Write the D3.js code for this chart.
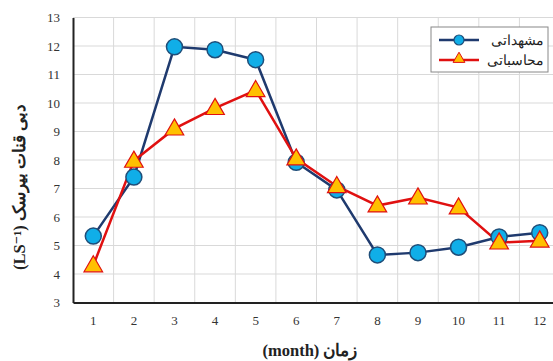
<!DOCTYPE html>
<html>
<head>
<meta charset="utf-8">
<script src="https://cdn.jsdelivr.net/npm/d3@7"></script>
<style>
  html, body { margin: 0; padding: 0; background: #fff; }
  svg { display: block; }
  text { font-family: "Liberation Serif", "DejaVu Serif", serif; }
</style>
</head>
<body>
<svg id="chart" width="553" height="361"></svg>
<script>
// Monthly discharge of the qanat: observed vs. computed
const months = [1, 2, 3, 4, 5, 6, 7, 8, 9, 10, 11, 12];
const observed = [5.33, 7.4, 11.97, 11.87, 11.52, 7.92, 6.95, 4.67, 4.75, 4.94, 5.3, 5.45];
const computed = [4.3, 7.97, 9.1, 9.82, 10.45, 8.05, 7.08, 6.4, 6.68, 6.33, 5.1, 5.17];
const yTicks = [3, 4, 5, 6, 7, 8, 9, 10, 11, 12, 13];
const seriesNames = ["مشهداتی", "محاسباتی"];

const svg = d3.select("#chart");
const plotLeft = 73, plotRight = 560, plotTop = 17.5, plotBottom = 302.5;

const x = d3.scaleBand().domain(months).range([plotLeft, plotRight]);
const y = d3.scaleLinear().domain([3, 13]).range([plotBottom, plotTop]);
const cx = d => x(d) + x.bandwidth() / 2;

// grid
const grid = svg.append("g");
grid.selectAll("line.h").data(yTicks).join("line")
  .attr("x1", plotLeft).attr("x2", plotRight)
  .attr("y1", d => y(d)).attr("y2", d => y(d))
  .attr("stroke", "#d9d9d9").attr("stroke-width", 1);
grid.selectAll("line.v").data(months.slice(1)).join("line")
  .attr("x1", d => x(d)).attr("x2", d => x(d))
  .attr("y1", plotTop).attr("y2", plotBottom)
  .attr("stroke", "#d9d9d9").attr("stroke-width", 1);

// axes
const yAxis = svg.append("g").attr("transform", `translate(${plotLeft},0)`)
  .call(d3.axisLeft(y).tickValues(yTicks).tickSize(0).tickPadding(13).tickFormat(d3.format("d")));
const xAxis = svg.append("g").attr("transform", `translate(0,${plotBottom})`)
  .call(d3.axisBottom(x).tickSize(0).tickPadding(13));
[yAxis, xAxis].forEach(a => {
  a.select(".domain").attr("stroke", "#222").attr("stroke-width", 2);
  a.selectAll("text").attr("font-size", 13).attr("fill", "#333")
    .attr("font-family", "'Liberation Serif', serif");
});

// axis titles
svg.append("text")
  .attr("transform", "translate(25,187) rotate(-90)")
  .attr("text-anchor", "middle")
  .attr("font-size", 16.5).attr("font-weight", "bold").attr("fill", "#222")
  .attr("direction", "rtl")
  .text("دبی قنات بیرسک (LS\u207B\u00B9)");
svg.append("text")
  .attr("x", 310).attr("y", 356)
  .attr("text-anchor", "middle")
  .attr("font-size", 16.5).attr("font-weight", "bold").attr("fill", "#222")
  .attr("direction", "rtl")
  .text("زمان (month)");

// series
const line = d3.line().x((d, i) => cx(months[i])).y(d => y(d));

svg.append("path").datum(observed)
  .attr("d", line).attr("fill", "none")
  .attr("stroke", "#1f3a6e").attr("stroke-width", 2.5);
svg.append("path").datum(computed)
  .attr("d", line).attr("fill", "none")
  .attr("stroke", "#e01010").attr("stroke-width", 2.5);

const tri = d3.symbol().type(d3.symbolTriangle).size(150);

svg.append("g").selectAll("circle").data(observed).join("circle")
  .attr("cx", (d, i) => cx(months[i])).attr("cy", d => y(d)).attr("r", 8)
  .attr("fill", "#10aee8").attr("stroke", "#1f4e79").attr("stroke-width", 1.5);

svg.append("g").selectAll("path").data(computed).join("path")
  .attr("d", tri)
  .attr("transform", (d, i) => `translate(${cx(months[i])},${y(d) + 1})`)
  .attr("fill", "#ffc000").attr("stroke", "#e01010").attr("stroke-width", 1.2);

// legend
const lg = svg.append("g").attr("transform", "translate(431,27)");
lg.append("rect").attr("width", 117).attr("height", 45)
  .attr("fill", "#fff").attr("stroke", "#888").attr("stroke-width", 1);
const items = [
  { name: seriesNames[0], color: "#1f3a6e", marker: "circle" },
  { name: seriesNames[1], color: "#e01010", marker: "tri" }
];
items.forEach((it, i) => {
  const g = lg.append("g").attr("transform", `translate(0,${13 + i * 20})`);
  g.append("line").attr("x1", 8).attr("x2", 48).attr("y1", 0).attr("y2", 0)
    .attr("stroke", it.color).attr("stroke-width", 2.5);
  if (it.marker === "circle") {
    g.append("circle").attr("cx", 28).attr("cy", 0).attr("r", 5)
      .attr("fill", "#10aee8").attr("stroke", "#1f4e79").attr("stroke-width", 1.2);
  } else {
    g.append("path").attr("d", d3.symbol().type(d3.symbolTriangle).size(60))
      .attr("transform", "translate(28,-1)")
      .attr("fill", "#ffc000").attr("stroke", "#e01010").attr("stroke-width", 1);
  }
  g.append("text").attr("x", 113).attr("y", 5)
    .attr("text-anchor", "end").attr("font-size", 14).attr("fill", "#222")
    .attr("font-family", "'DejaVu Sans', sans-serif")
    .text(it.name);
});
</script>
</body>
</html>
